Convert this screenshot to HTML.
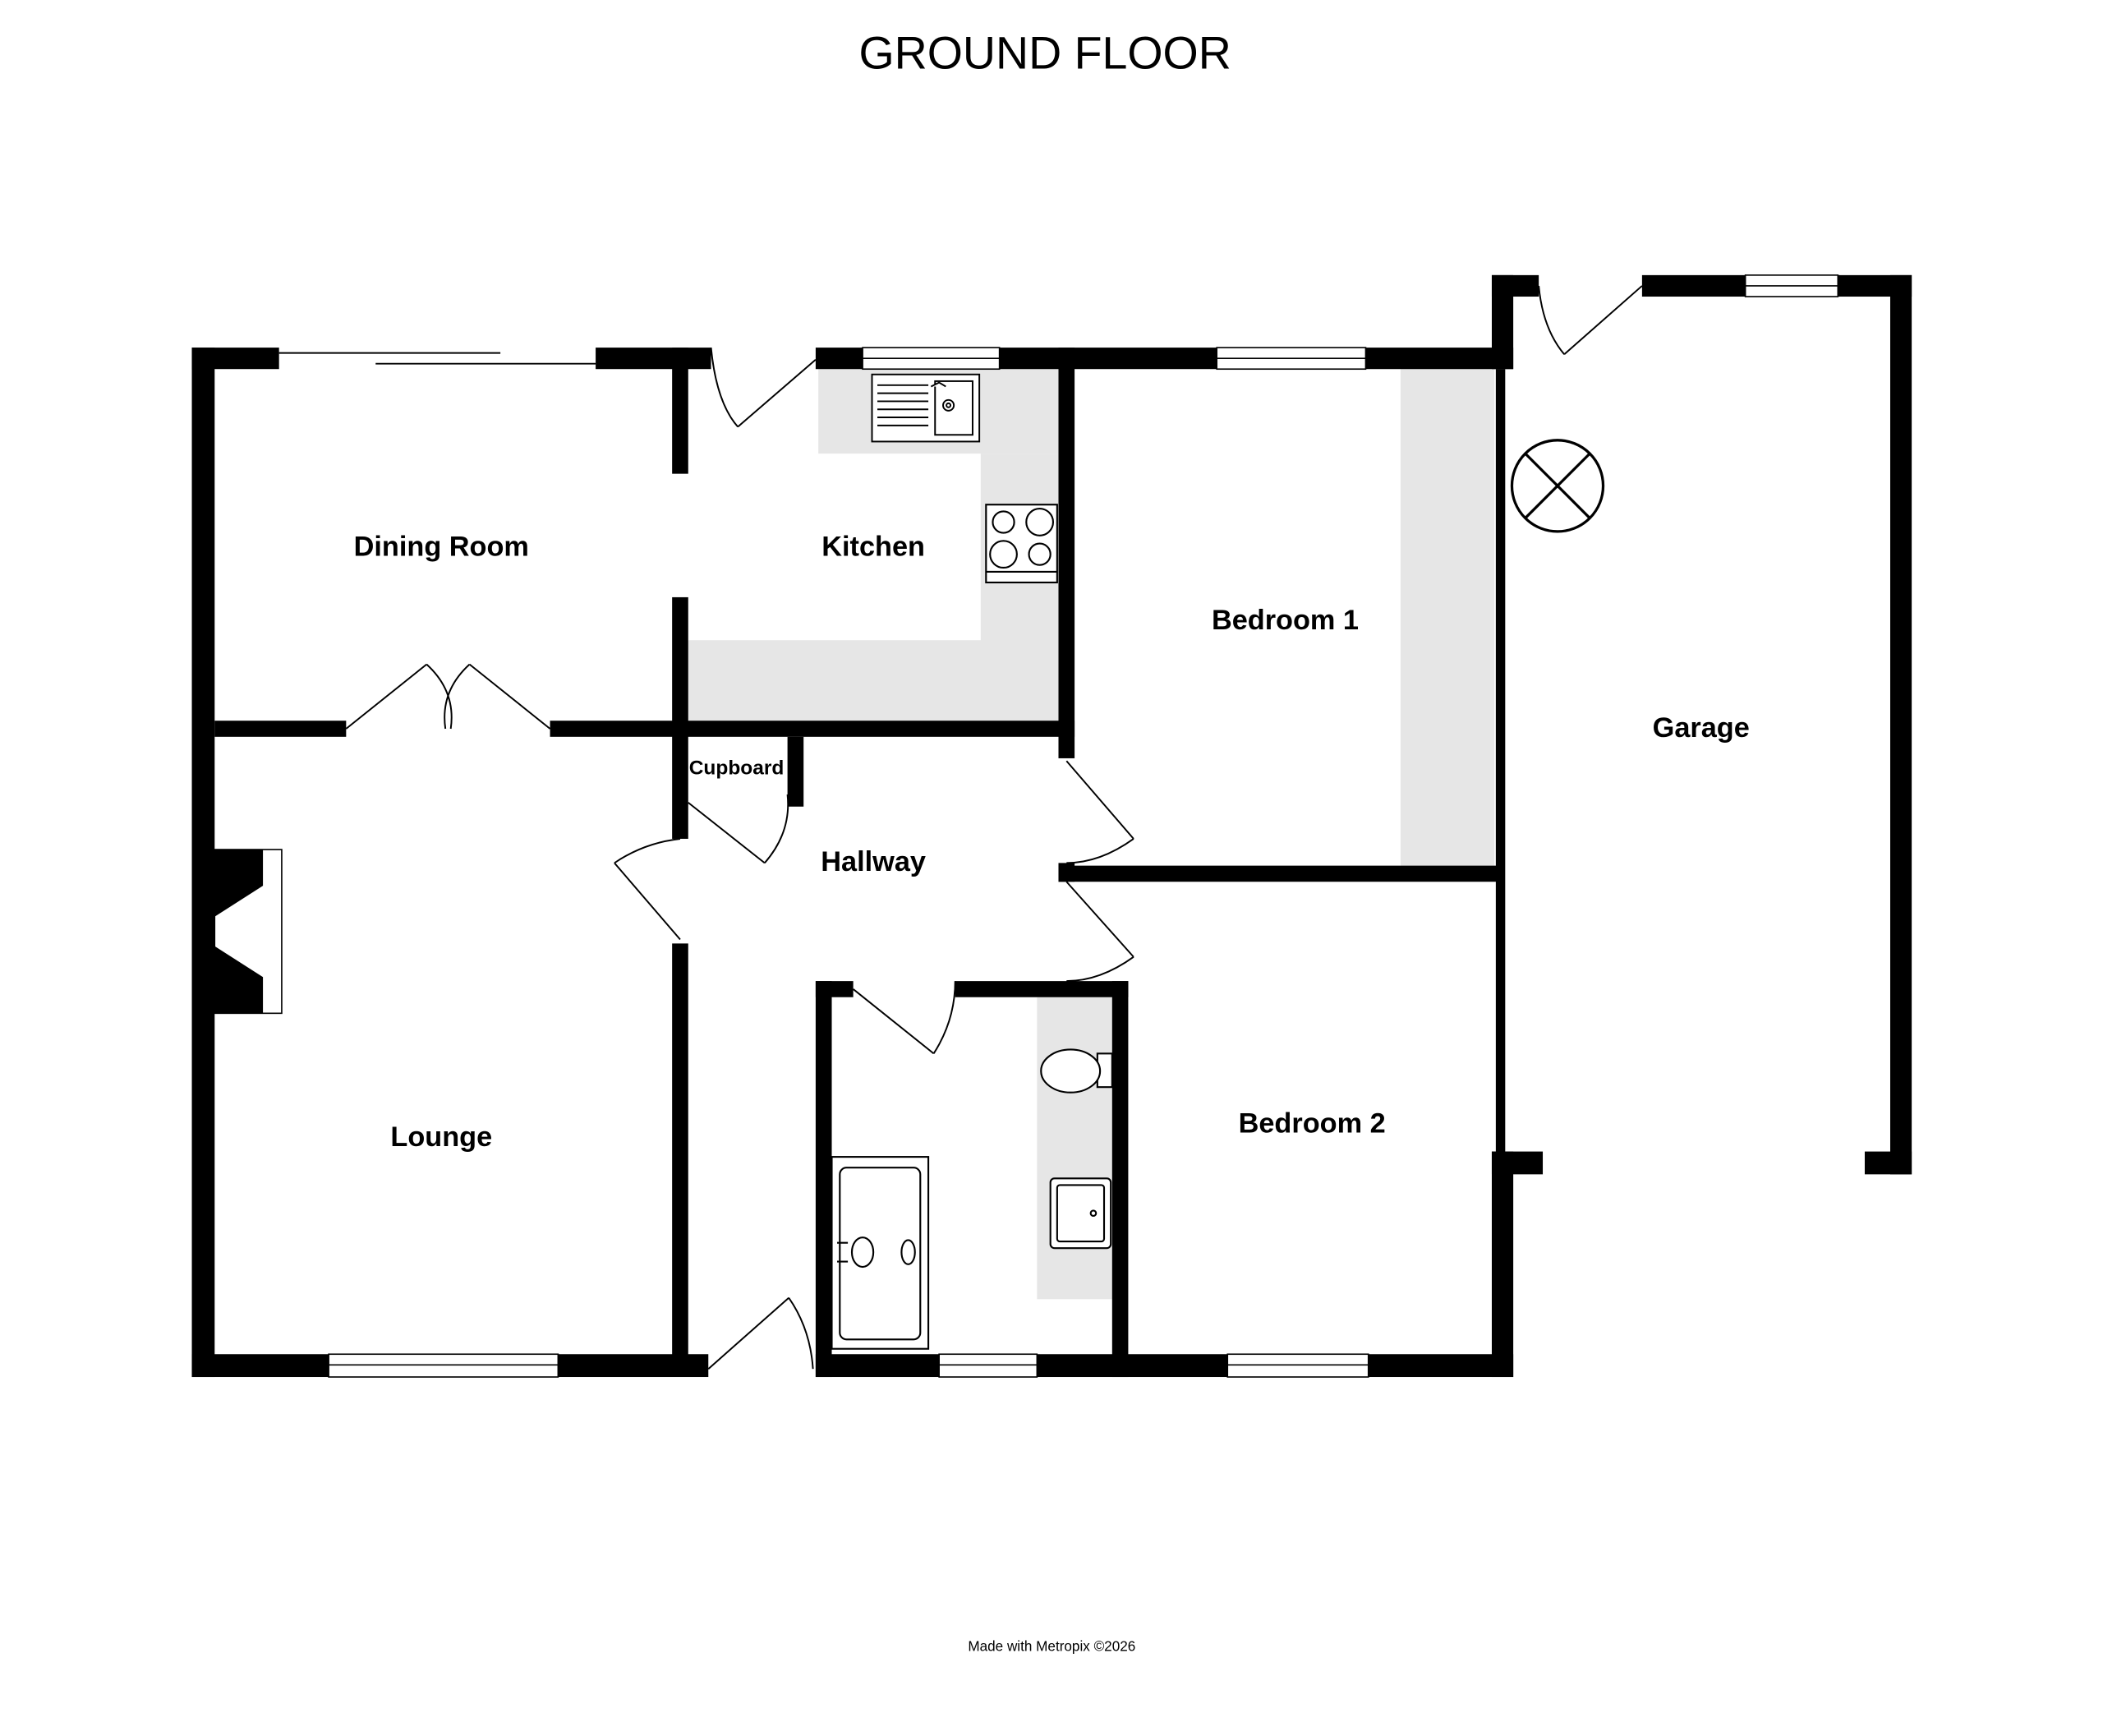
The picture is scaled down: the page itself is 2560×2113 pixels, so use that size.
<!DOCTYPE html>
<html><head><meta charset="utf-8"><style>
html,body{margin:0;padding:0;background:#fff;}
svg{display:block;}
text{font-family:"Liberation Sans",sans-serif;}
</style></head><body>
<svg width="2560" height="2113" viewBox="0 0 1567.6 1293.5" preserveAspectRatio="none" xmlns="http://www.w3.org/2000/svg">
<rect width="1568" height="1294" fill="#fff"/>
<text x="779" y="51" font-size="34" text-anchor="middle">GROUND FLOOR</text>
<g fill="#e6e6e6">
<rect x="610" y="275" width="180" height="63"/>
<rect x="731" y="338" width="59" height="140"/>
<rect x="513" y="477" width="277" height="61"/>
<rect x="1044" y="275" width="70" height="371"/>
<rect x="773" y="743" width="57" height="225"/>
</g>
<g fill="#000">
<rect x="143" y="259" width="65" height="16"/>
<rect x="444" y="259" width="86" height="16"/>
<rect x="608" y="259" width="35" height="16"/>
<rect x="745" y="259" width="162" height="16"/>
<rect x="1018" y="259" width="110" height="16"/>
<rect x="143" y="259" width="17" height="767"/>
<rect x="143" y="1009" width="102" height="17"/>
<rect x="416" y="1009" width="112" height="17"/>
<rect x="608" y="1009" width="92" height="17"/>
<rect x="773" y="1009" width="142" height="17"/>
<rect x="1020" y="1009" width="108" height="17"/>
<rect x="501" y="259" width="12" height="94"/>
<rect x="501" y="445" width="12" height="180"/>
<rect x="501" y="703" width="12" height="315"/>
<rect x="160" y="537" width="98" height="12"/>
<rect x="410" y="537" width="391" height="12"/>
<rect x="789" y="259" width="12" height="306"/>
<rect x="789" y="643" width="12" height="14"/>
<rect x="789" y="645" width="331" height="12"/>
<rect x="829" y="731" width="12" height="295"/>
<rect x="608" y="731" width="28" height="12"/>
<rect x="712" y="731" width="129" height="12"/>
<rect x="608" y="731" width="12" height="295"/>
<rect x="587" y="549" width="12" height="52"/>
<rect x="1112" y="205" width="16" height="70"/>
<rect x="1115" y="275" width="7" height="585"/>
<rect x="1112" y="858" width="16" height="168"/>
<rect x="1112" y="858" width="38" height="17"/>
<rect x="1112" y="205" width="35" height="16"/>
<rect x="1224" y="205" width="77" height="16"/>
<rect x="1370" y="205" width="55" height="16"/>
<rect x="1409" y="205" width="16" height="670"/>
<rect x="1390" y="858" width="35" height="17"/>
</g>
<g fill="#fff" stroke="#000" stroke-width="1">
<rect x="643" y="259" width="102" height="16"/><line x1="643" y1="267" x2="745" y2="267"/>
<rect x="907" y="259" width="111" height="16"/><line x1="907" y1="267" x2="1018" y2="267"/>
<rect x="245" y="1009" width="171" height="17"/><line x1="245" y1="1017" x2="416" y2="1017"/>
<rect x="700" y="1009" width="73" height="17"/><line x1="700" y1="1017" x2="773" y2="1017"/>
<rect x="915" y="1009" width="105" height="17"/><line x1="915" y1="1017" x2="1020" y2="1017"/>
<rect x="1301" y="205" width="69" height="16"/><line x1="1301" y1="213" x2="1370" y2="213"/>
</g>
<g stroke="#000" stroke-width="1.2">
<line x1="208" y1="263" x2="373" y2="263"/>
<line x1="280" y1="271" x2="444" y2="271"/>
</g>
<g fill="none" stroke="#000" stroke-width="1.2">
<path d="M550 318 L608 268 M530 259 Q534 300 550 318"/>
<path d="M258 543 L318 495 M318 495 Q340 515 336 543"/>
<path d="M410 543 L350 495 M350 495 Q328 515 332 543"/>
<path d="M513 598 L570 643 M570 643 Q590 620 587 592"/>
<path d="M458 643 L507 700 M458 643 Q480 628 507 625"/>
<path d="M795 567 L845 625 M845 625 Q820 643 795 643"/>
<path d="M795 657 L845 713 M845 713 Q820 731 795 731"/>
<path d="M636 737 L696 785 M696 785 Q712 760 712 731"/>
<path d="M528 1020 L588 967 M588 967 Q604 990 606 1020"/>
<path d="M1166 264 L1224 213 M1147 213 Q1150 245 1166 264"/>
</g>
<g fill="#fff" stroke="#000" stroke-width="1.2">
<rect x="650" y="279" width="80" height="50"/>
<rect x="697" y="284" width="28" height="40"/>
<circle cx="707" cy="302" r="4"/><circle cx="707" cy="302" r="1.5"/>
<path d="M654 287h38M654 293h38M654 299h38M654 305h38M654 311h38M654 317h38"/>
<path d="M694 288 l6 -3 l5 3"/>
</g>
<g fill="#fff" stroke="#000" stroke-width="1.3">
<rect x="735" y="376" width="53" height="58"/>
<circle cx="748" cy="389" r="8"/><circle cx="775" cy="389" r="10"/>
<circle cx="748" cy="413" r="10"/><circle cx="775" cy="413" r="8"/>
<line x1="735" y1="426" x2="788" y2="426"/>
</g>
<rect x="160" y="633" width="50" height="122" fill="#fff" stroke="#000" stroke-width="1"/>
<path d="M160 633 H196 V660 L160 683 Z M160 705 L196 728 V755 H160 Z" fill="#000"/>
<g fill="none" stroke="#000" stroke-width="2">
<circle cx="1161" cy="362" r="34"/>
<line x1="1137" y1="338" x2="1185" y2="386"/><line x1="1185" y1="338" x2="1137" y2="386"/>
</g>
<g fill="#fff" stroke="#000" stroke-width="1.3">
<rect x="818" y="785" width="11" height="25"/>
<ellipse cx="798" cy="798" rx="22" ry="16"/>
<rect x="783" y="878" width="45" height="52" rx="3"/>
<rect x="788" y="883" width="35" height="42" rx="2"/>
<circle cx="815" cy="904" r="2"/>
</g>
<g fill="#fff" stroke="#000" stroke-width="1.3">
<rect x="620" y="862" width="72" height="143"/>
<rect x="626" y="870" width="60" height="128" rx="5"/>
<ellipse cx="643" cy="933" rx="8" ry="11"/>
<ellipse cx="677" cy="933" rx="5" ry="9"/>
<path d="M624 926h8M624 940h8"/>
</g>
<g font-weight="bold" font-size="21" text-anchor="middle" fill="#000">
<text x="329" y="414">Dining Room</text>
<text x="651" y="414">Kitchen</text>
<text x="958" y="469">Bedroom 1</text>
<text x="1268" y="549">Garage</text>
<text x="651" y="649">Hallway</text>
<text x="329" y="854">Lounge</text>
<text x="978" y="844">Bedroom 2</text>
<text x="549" y="577" font-size="15">Cupboard</text>
</g>
<text x="784" y="1230" font-size="10.5" text-anchor="middle">Made with Metropix ©2026</text>
</svg>
</body></html>
